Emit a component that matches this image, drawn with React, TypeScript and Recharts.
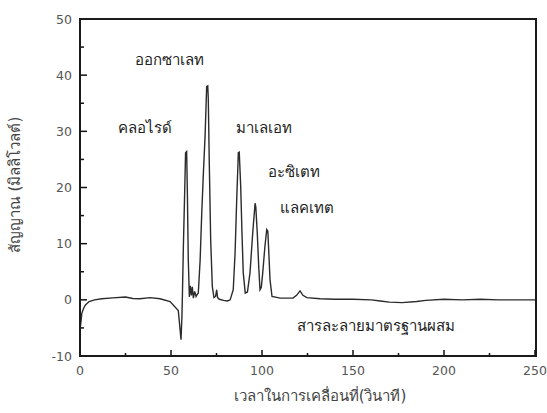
import React from "react";
import {
  LineChart,
  Line,
  XAxis,
  YAxis,
} from "recharts";

/* ---------- data ---------- */
const time = [
  0, 0.5, 1, 2, 3, 5, 8, 12, 18, 25, 29, 33, 38.5, 44, 49.5, 54,
  55, 55.5, 56, 56.3, 56.8, 57.5, 58, 58.6, 59, 59.5, 60.1, 60.6, 61.2,
  61.7, 62.3, 63, 63.8, 64.5, 65, 66, 66.9, 67.8, 68.7, 69.6, 70.2, 70.5,
  71, 71.8, 72.7, 73.6, 74.5, 75.1, 75.6, 76.6, 78.9, 81, 82.5, 84.2,
  85.2, 86.1, 87, 87.5, 88.3, 89, 89.7, 90.8, 92, 93.4, 94.9, 96.2, 96.6,
  97.4, 98.2, 98.9, 99.6, 100.4, 101.6, 102.6, 103.2, 103.8, 104.4, 105.5,
  110, 117, 119, 120.9, 122.5, 124.6, 131.9, 140, 150, 160, 165, 170, 177,
  185, 190, 200, 210, 220, 230, 240, 250,
];
const signal = [
  -5.3, -4.0, -2.4, -1.5, -0.9, -0.3, 0, 0.2, 0.35, 0.5, 0.25, 0.2, 0.4, 0.2, -0.3, -1.9,
  -5.3, -7.1, -3, 1.2, 9.5, 19, 26.2, 26.4, 19, 7.1, 0.5, 2.5, 0.8,
  2.3, 0.3, 1.5, 0.6, 1, 1.2, 7, 15.5, 22.6, 29, 38, 38.1, 35.6,
  25, 10.7, 2.4, 0.4, 0.6, 1.8, 0.4, 0.1, -0.1, -0.2, 0, 1.8,
  8.3, 17.8, 26.2, 26.3, 20.2, 11.9, 4.8, 1.2, 1.4, 4.8, 11.9, 17.2, 16.5,
  11.9, 5.9, 1.8, 2.2, 4.8, 9.5, 12.5, 12.2, 8, 3.6, 0.6,
  0.3, 0.3, 0.8, 1.6, 0.8, 0.4, 0.2, 0.1, 0.1, 0, -0.2, -0.4, -0.5,
  -0.3, -0.1, 0.1, 0, 0.1, 0, 0, 0,
];

const xTicks = [0, 25, 50, 75, 100, 125, 150, 175, 200, 225, 250];
const yTicks = [-10, -5, 0, 5, 10, 15, 20, 25, 30, 35, 40, 45, 50];

const peakLabels = [
  { text: "ออกซาเลท", left: 135, top: 50 },
  { text: "คลอไรด์", left: 118, top: 118 },
  { text: "มาเลเอท", left: 236, top: 118 },
  { text: "อะซิเตท", left: 268, top: 162 },
  { text: "แลคเทต", left: 280, top: 198 },
  { text: "สารละลายมาตรฐานผสม", left: 297, top: 316 },
];

const chartData = time.map((t, i) => ({ t, v: signal[i] }));

const FONT = "Tahoma, 'DejaVu Sans', 'Noto Sans', sans-serif";

/* ---------- ticks drawn inward like the original ---------- */
function XTick(props: any) {
  const { x, y, payload } = props;
  const v = payload.value;
  const major = v % 50 === 0;
  return (
    <g>
      <line x1={x} y1={y} x2={x} y2={y - (major ? 6 : 3)} stroke="#111" strokeWidth={1.5} />
      {major && (
        <text x={x} y={y + 19} textAnchor="middle" fill="#555" fontSize={12.5} fontFamily={FONT}>
          {v}
        </text>
      )}
    </g>
  );
}

function YTick(props: any) {
  const { x, y, payload } = props;
  const v = payload.value;
  const major = v % 10 === 0;
  return (
    <g>
      <line x1={x} y1={y} x2={x + (major ? 7 : 4)} y2={y} stroke="#111" strokeWidth={1.5} />
      {major && (
        <text x={x - 8} y={y + 4.5} textAnchor="end" fill="#555" fontSize={12.5} fontFamily={FONT}>
          {v}
        </text>
      )}
    </g>
  );
}

export default function App() {
  return (
    <div style={{ position: "absolute", left: 0, top: 0, width: 547, height: 413, background: "#fff" }}>
      <LineChart
        width={547}
        height={413}
        data={chartData}
        margin={{ top: 19, right: 12, bottom: 0, left: 0 }}
      >
        <XAxis
          dataKey="t"
          type="number"
          domain={[0, 250]}
          ticks={xTicks}
          interval={0}
          height={57}
          tickSize={0}
          tickMargin={0}
          tickLine={false}
          tick={<XTick />}
          axisLine={false}
        />
        <YAxis
          type="number"
          domain={[-10, 50]}
          ticks={yTicks}
          interval={0}
          width={80}
          tickSize={0}
          tickMargin={0}
          tickLine={false}
          tick={<YTick />}
          axisLine={false}
        />
        <Line
          type="linear"
          dataKey="v"
          stroke="#2b2b2b"
          strokeWidth={1.4}
          dot={false}
          isAnimationActive={false}
        />
      </LineChart>

      {/* box frame around the plot area */}
      <div
        style={{
          position: "absolute",
          left: 79,
          top: 18,
          width: 458,
          height: 339,
          boxSizing: "border-box",
          border: "2px solid #1a1a1a",
          pointerEvents: "none",
        }}
      />

      {peakLabels.map((p) => (
        <div
          key={p.text}
          style={{
            position: "absolute",
            left: p.left,
            top: p.top,
            fontFamily: FONT,
            fontSize: 15,
            color: "#222",
            whiteSpace: "nowrap",
            lineHeight: "20px",
          }}
        >
          {p.text}
        </div>
      ))}

      <div
        style={{
          position: "absolute",
          left: 15,
          top: 185,
          transform: "translate(-50%, -50%) rotate(-90deg)",
          fontFamily: FONT,
          fontSize: 15,
          color: "#444",
          whiteSpace: "nowrap",
        }}
      >
        สัญญาณ (มิลลิโวลต์)
      </div>
      <div
        style={{
          position: "absolute",
          left: 320,
          top: 396,
          transform: "translate(-50%, -50%)",
          fontFamily: FONT,
          fontSize: 15,
          color: "#444",
          whiteSpace: "nowrap",
        }}
      >
        เวลาในการเคลื่อนที่(วินาที)
      </div>
    </div>
  );
}
